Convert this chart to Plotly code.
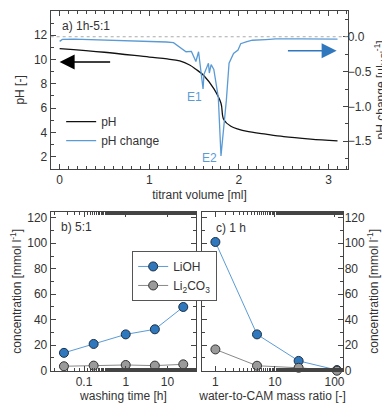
import plotly.graph_objects as go

# a) titration curve
ph_vol = [0.0, 0.5, 1.0, 1.2, 1.34, 1.45, 1.52, 1.61, 1.72, 1.8, 1.83, 1.91, 2.0, 2.08, 2.3, 2.5, 2.8, 3.1]
ph_val = [10.9, 10.6, 10.2, 10.05, 9.88, 9.55, 9.2, 8.67, 7.6, 6.4, 5.06, 4.5, 4.25, 4.1, 3.85, 3.65, 3.45, 3.3]

dph_vol = [0.0, 0.03, 0.16, 0.5, 0.97, 1.19, 1.27, 1.34, 1.41, 1.47, 1.52, 1.55, 1.6, 1.61, 1.66, 1.67,
           1.69, 1.72, 1.77, 1.8, 1.82, 1.86, 1.89, 1.94, 1.99, 2.02, 2.08, 2.15, 2.3, 2.41, 2.7, 3.1]
dph_val = [-0.066, -0.038, -0.035, -0.045, -0.066, -0.075, -0.085, -0.145, -0.215, -0.21, -0.355, -0.215,
           -0.75, -0.54, -0.38, -0.52, -0.40, -0.47, -0.87, -1.71, -1.47, -0.91, -0.38, -0.24, -0.19,
           -0.1, -0.075, -0.05, -0.04, -0.03, -0.03, -0.035]

# b) washing time series
wash_time = [0.033, 0.17, 1, 5, 24]
wash_lioh = [14, 21, 28.5, 32.5, 50]
wash_li2co3 = [3.5, 4, 4.5, 4, 5]

# c) mass ratio series
ratio = [1, 5, 25, 110]
ratio_lioh = [101, 28.5, 7.7, 0.5]
ratio_li2co3 = [16.7, 3.9, 2.3, 0]

FONT = "Liberation Sans"
TXT = "#333333"
AX = "#444444"
BLUE_LINE = "#5b9bd5"
BLUE_MK = "#2f78bd"
GREY_MK = "#9a9a9a"


def main():
    fig = go.Figure()

    fig.add_trace(go.Scatter(x=ph_vol, y=ph_val, name="pH", mode="lines",
                             line=dict(color="#111111", width=1.3), line_shape="spline",
                             xaxis="x", yaxis="y", legend="legend"))
    fig.add_trace(go.Scatter(x=dph_vol, y=dph_val, name="pH change", mode="lines",
                             line=dict(color=BLUE_LINE, width=1.3),
                             xaxis="x", yaxis="y2", legend="legend"))

    mk_b = dict(size=9, color=BLUE_MK, line=dict(color="#1c2f45", width=1))
    mk_g = dict(size=9, color=GREY_MK, line=dict(color="#333333", width=1))

    fig.add_trace(go.Scatter(x=wash_time, y=wash_lioh, name="LiOH", mode="lines+markers",
                             line=dict(color=BLUE_LINE, width=1), marker=mk_b, cliponaxis=False,
                             xaxis="x3", yaxis="y3", legend="legend2"))
    fig.add_trace(go.Scatter(x=wash_time, y=wash_li2co3, name="Li<sub>2</sub>CO<sub>3</sub>",
                             mode="lines+markers", line=dict(color="#888888", width=1), marker=mk_g,
                             cliponaxis=False, xaxis="x3", yaxis="y3", legend="legend2"))
    fig.add_trace(go.Scatter(x=ratio, y=ratio_lioh, mode="lines+markers", showlegend=False,
                             line=dict(color=BLUE_LINE, width=1), marker=mk_b, cliponaxis=False,
                             xaxis="x4", yaxis="y4"))
    fig.add_trace(go.Scatter(x=ratio, y=ratio_li2co3, mode="lines+markers", showlegend=False,
                             line=dict(color="#888888", width=1), marker=mk_g, cliponaxis=False,
                             xaxis="x4", yaxis="y4"))

    ax = dict(showline=True, linecolor=AX, linewidth=1, ticks="inside", ticklen=5,
              tickcolor=AX, showgrid=False, zeroline=False,
              tickfont=dict(size=12, color=TXT), title_font=dict(size=12, color=TXT))

    fig.update_layout(
        width=390, height=404,
        margin=dict(l=0, r=0, t=0, b=0),
        paper_bgcolor="white", plot_bgcolor="white",
        font=dict(family=FONT, size=12, color=TXT),
        xaxis=dict(ax, domain=[0.110, 0.877], range=[-0.1, 3.22], anchor="y", mirror="ticks",
                   dtick=1, minor=dict(dtick=0.1, ticks="inside", ticklen=3, tickcolor=AX),
                   title=dict(text="titrant volume [ml]", standoff=4)),
        yaxis=dict(ax, domain=[0.5965, 0.995], range=[1, 14], anchor="x", dtick=2, tick0=0,
                   minor=dict(dtick=1, ticks="inside", ticklen=3, tickcolor=AX),
                   title=dict(text="pH [-]", standoff=6)),
        yaxis2=dict(ax, overlaying="y", side="right", anchor="x", range=[-1.895, 0.37],
                    tickvals=[0, -0.5, -1.0, -1.5], tickformat=".1f", ticklabelstandoff=-4,
                    minor=dict(dtick=0.25, tick0=0, ticks="inside", ticklen=3, tickcolor=AX),
                    title=dict(text="pH change [µl<sub>HCl</sub><sup>-1</sup>]", standoff=1)),
        xaxis3=dict(ax, domain=[0.110, 0.485], type="log", range=[-1.8, 1.69], anchor="y3",
                    mirror="ticks", tickvals=[0.1, 1, 10], ticktext=["0.1", "1", "10"],
                    minor=dict(ticks="inside", ticklen=3, tickcolor=AX),
                    title=dict(text="washing time [h]", standoff=2)),
        yaxis3=dict(ax, domain=[0.0866, 0.4876], range=[0, 124.6], anchor="x3", mirror="ticks",
                    dtick=20, minor=dict(dtick=10, ticks="inside", ticklen=3, tickcolor=AX),
                    title=dict(text="concentration [mmol l<sup>-1</sup>]", standoff=4)),
        xaxis4=dict(ax, domain=[0.5, 0.864], type="log", range=[-0.225, 2.147], anchor="y4",
                    mirror="ticks", tickvals=[1, 10, 100], ticktext=["1", "10", "100"],
                    minor=dict(ticks="inside", ticklen=3, tickcolor=AX),
                    title=dict(text="water-to-CAM mass ratio [-]", standoff=2)),
        yaxis4=dict(ax, domain=[0.0866, 0.4876], range=[0, 124.6], anchor="x4", side="right",
                    mirror="ticks", dtick=20, ticklabelstandoff=-2,
                    minor=dict(dtick=10, ticks="inside", ticklen=3, tickcolor=AX),
                    title=dict(text="concentration [mmol l<sup>-1</sup>]", standoff=0)),
        legend=dict(x=0.137, y=0.752, xanchor="left", yanchor="top", bgcolor="rgba(0,0,0,0)",
                    font=dict(size=12, color=TXT), tracegroupgap=0),
        legend2=dict(x=0.32, y=0.389, xanchor="left", yanchor="top", bgcolor="white",
                     bordercolor="#555555", borderwidth=1, font=dict(size=12, color=TXT),
                     tracegroupgap=0),
    )

    # dotted reference line at zero pH change
    fig.add_shape(type="line", xref="x domain", x0=0, x1=1, yref="y2", y0=0, y1=0,
                  line=dict(color="#aaaaaa", width=1, dash="dot"))

    # direction arrows
    fig.add_annotation(x=0.0, y=9.8, ax=0.58, ay=9.8, xref="x", yref="y", axref="x", ayref="y",
                       text="", showarrow=True, arrowhead=2, arrowsize=2, arrowwidth=1.5,
                       arrowcolor="#000000")
    fig.add_annotation(x=3.09, y=-0.2, ax=2.53, ay=-0.2, xref="x", yref="y2", axref="x", ayref="y2",
                       text="", showarrow=True, arrowhead=2, arrowsize=2, arrowwidth=1.5,
                       arrowcolor="#2f78bd")

    fig.add_annotation(x=1.50, y=-0.87, xref="x", yref="y2", text="E1", showarrow=False,
                       font=dict(size=12, color=BLUE_LINE))
    fig.add_annotation(x=1.67, y=-1.74, xref="x", yref="y2", text="E2", showarrow=False,
                       font=dict(size=12, color=BLUE_LINE))

    # panel labels
    for txt, x, y in [("a) 1h-5:1", 52, 17), ("b) 5:1", 51, 222), ("c) 1 h", 207, 223)]:
        fig.add_annotation(x=x / 390, y=1 - y / 404, xref="paper", yref="paper", text=txt,
                           showarrow=False, xanchor="left", yanchor="middle",
                           font=dict(size=12, color=TXT))

    fig.write_html("out.html")


if __name__ == "__main__":
    main()
